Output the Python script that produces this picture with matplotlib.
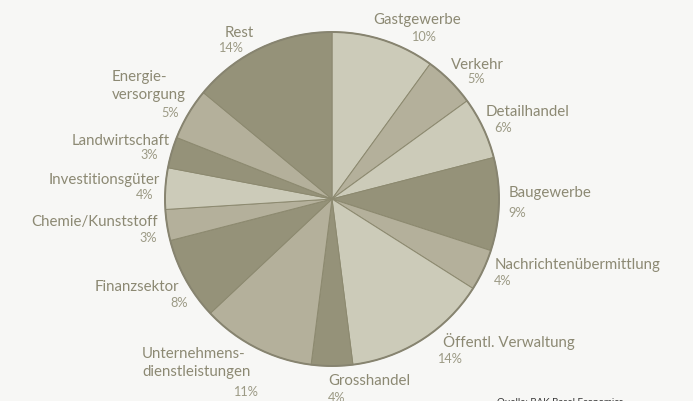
import matplotlib
matplotlib.use("Agg")
import matplotlib.pyplot as plt
from matplotlib.patches import Circle

# ---- data ----
categories = ["Gastgewerbe", "Verkehr", "Detailhandel", "Baugewerbe",
              "Nachrichtenübermittlung", "Öffentl. Verwaltung", "Grosshandel",
              "Unternehmens-\ndienstleistungen", "Finanzsektor", "Chemie/Kunststoff",
              "Investitionsgüter", "Landwirtschaft", "Energie-\nversorgung", "Rest"]
shares = [10, 5, 6, 9, 4, 14, 4, 11, 8, 3, 4, 3, 5, 14]
pct_labels = [f"{v}%" for v in shares]
source = "Quelle: BAK Basel Economics"

# ---- style ----
LIGHT, MED, DARK = "#cccbb9", "#b4b09b", "#959279"
colors = [LIGHT, MED, LIGHT, DARK, MED, LIGHT, DARK, MED, DARK, MED, LIGHT, DARK, MED, DARK]
BG = "#f7f7f5"
NAME_C = "#8c8973"
PCT_C = "#9c9a85"

W, H = 693, 401
CX, CY, R = 332, 199, 167

# label layout in pixel coords: (name_x, name_y, name_ha, pct_x, pct_y, pct_ha)
layout = [
    (417, 20, "center", 423, 37, "center"),
    (477, 65, "center", 476, 79, "center"),
    (486, 112, "left", 494, 128, "left"),
    (509, 193, "left", 508, 213, "left"),
    (495, 265, "left", 494, 281, "left"),
    (443, 342, "left", 437, 359, "left"),
    (328, 381, "left", 328, 398, "left"),
    (142, 363, "left", 258, 392, "right"),
    (179, 287, "right", 188, 303, "right"),
    (158, 222, "right", 157, 238, "right"),
    (160, 180, "right", 153, 195, "right"),
    (170, 141, "right", 158, 155, "right"),
    (112, 86, "left", 179, 113, "right"),
    (239, 33, "center", 230, 48, "center"),
]

plt.rcParams["font.family"] = ["Lato", "DejaVu Sans"]

fig = plt.figure(figsize=(W / 100, H / 100), dpi=100, facecolor=BG)
ax = fig.add_axes([0, 0, 1, 1])
ax.set_facecolor(BG)

ax.pie(shares, colors=colors, startangle=90, counterclock=False, radius=1,
       wedgeprops=dict(edgecolor="#8c896f", linewidth=0.7))
ax.add_patch(Circle((0, 0), 1, fill=False, edgecolor="#878470", linewidth=1.4))

ax.set_xlim(-CX / R, (W - CX) / R)
ax.set_ylim(-(H - CY) / R, CY / R)
ax.set_aspect("auto")
ax.set_axis_off()


def P(x, y):
    return (x - CX) / R, (CY - y) / R


for name, pct, (nx, ny, nha, px, py, pha) in zip(categories, pct_labels, layout):
    ax.text(*P(nx, ny), name, ha=nha, va="center", multialignment="left",
            fontsize=10.8, color=NAME_C, linespacing=1.4)
    ax.text(*P(px, py), pct, ha=pha, va="center", fontsize=9.2, color=PCT_C)

ax.text(*P(497, 398), source, ha="left", va="top", fontsize=7, color="#333333")

fig.savefig("out.png", dpi=100, facecolor=BG)
